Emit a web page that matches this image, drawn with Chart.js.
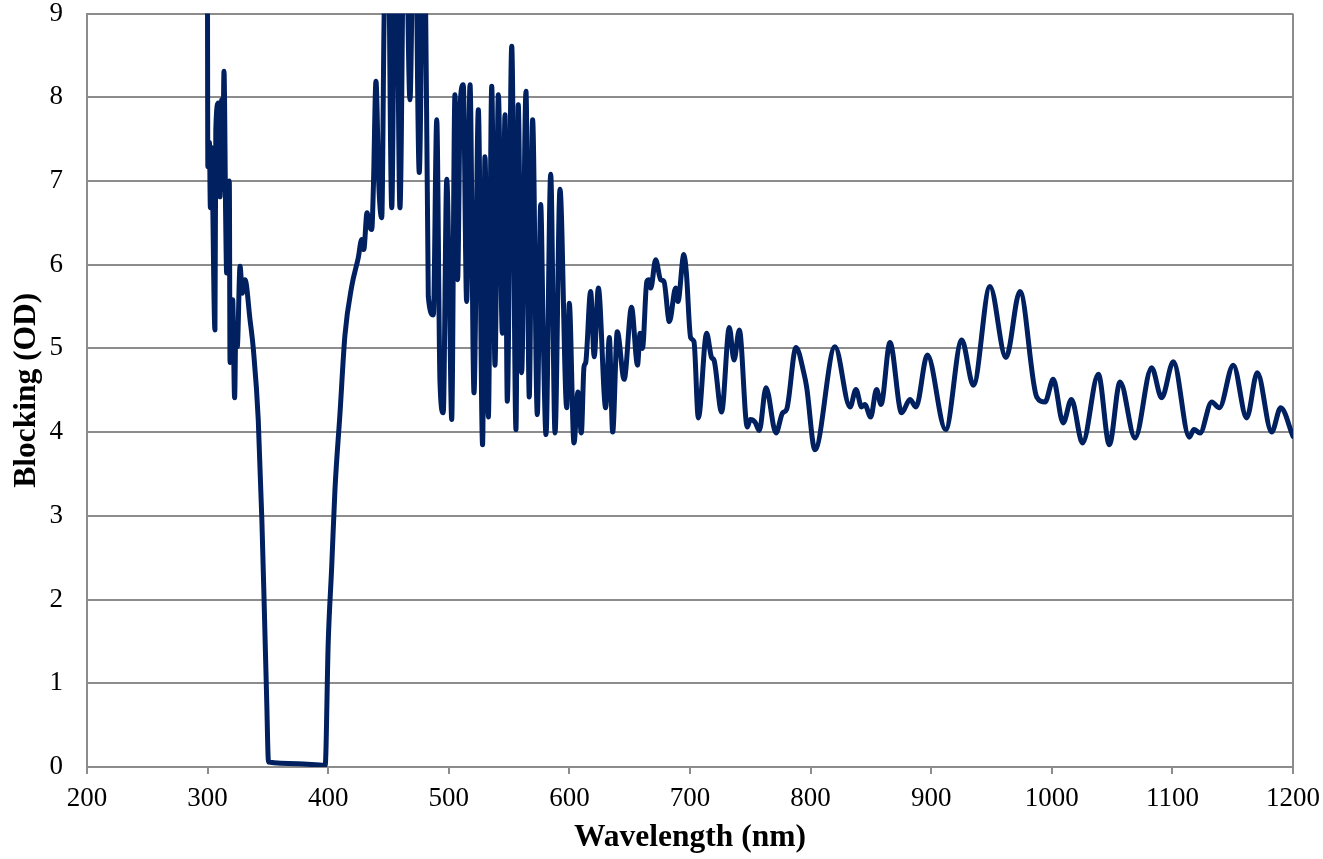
<!DOCTYPE html>
<html>
<head>
<meta charset="utf-8">
<script src="https://cdn.jsdelivr.net/npm/chart.js@4/dist/chart.umd.min.js"></script>
<style>
  html, body { margin: 0; padding: 0; background: #fff; }
  #wrap { width: 1323px; height: 859px; }
</style>
</head>
<body>
<div id="wrap"><canvas id="chart"></canvas></div>
<script>
// ── Data ────────────────────────────────────────────────

const wavelength = [
  299.8, 300.2, 301.5, 302.3, 303.2, 306.1, 306.8, 308.9, 310.3, 311.7,
  312.4, 313.6, 315, 315.8, 318, 318.6, 320.8, 322.4, 323.5, 324.6,
  326.9, 328.8, 331, 335.2, 338, 342, 345, 347, 349, 350.5,
  375, 397.5, 400, 402.9, 405.6, 409.8, 413.9, 419.5, 424.9, 427.8,
  429.5, 432.2, 434.5, 436.1, 437.5, 439.6, 442, 444.4, 446.3, 449,
  452.7, 456, 459.5, 463.5, 467.8, 471.5, 475.5, 479.5, 483, 487.2,
  490, 492.7, 495.4, 498.3, 500.4, 502.4, 505.1, 507.3, 509.5, 512,
  514.8, 517.6, 520.9, 524.5, 528, 530, 532.8, 535.6, 538.3, 541.1,
  544.4, 546.6, 548.5, 552.2, 555.7, 557.6, 560.4, 564, 566.7, 569.5,
  573.4, 576.2, 578.4, 580.6, 584.5, 588.1, 592.2, 597.8, 599.9, 603.8,
  607.1, 609.9, 612.1, 613.5, 617.6, 620.6, 624, 630.1, 633.1, 635.9,
  639.7, 645.4, 651.5, 656.5, 658.6, 660.6, 664.2, 666, 667.5, 671.5,
  675.7, 678.4, 682.9, 688.1, 690, 694.9, 697, 700.5, 703.3, 706.9,
  713.8, 717.9, 719.9, 726.2, 732.6, 736.5, 740.9, 747.5, 750, 753.9,
  757.5, 763, 771.3, 776.8, 780.1, 787.9, 794.5, 796.7, 803.6, 820.2,
  832.7, 837.6, 842.3, 845, 849.8, 854.7, 858.4, 865.8, 875.5, 882.4,
  887.4, 896.8, 912, 925.3, 935, 948.7, 962, 973.6, 987.5, 994.4,
  1001.2, 1009.4, 1016.3, 1025.5, 1038.6, 1047.7, 1056.6, 1069, 1082.8, 1091.1,
  1100.8, 1114, 1117.9, 1122.9, 1132.6, 1138.9, 1150.5, 1161.6, 1170.4, 1182.3,
  1189.8, 1200
];

const blocking = [
  10.5, 7.17, 7.46, 6.68, 7.4, 5.22, 7.61, 7.93, 6.81, 7.97,
  6.9, 8.31, 6.54, 5.9, 7.0, 4.83, 5.58, 4.41, 5.3, 5.02,
  5.98, 5.66, 5.82, 5.34, 4.98, 4.15, 2.95, 1.9, 0.8, 0.06,
  0.04, 0.02, 1.48, 2.39, 3.31, 4.23, 5.16, 5.74, 6.08, 6.3,
  6.18, 6.62, 6.45, 6.42, 6.94, 8.19, 6.94, 6.56, 8.89, 11,
  6.68, 11, 6.68, 11, 7.97, 11, 7.1, 11, 5.62, 5.4,
  7.73, 4.59, 4.23, 7.02, 5.78, 4.15, 8.03, 5.82, 7.93, 8.15,
  5.56, 8.15, 4.47, 7.85, 3.85, 7.29, 4.18, 8.13, 4.8, 8.03,
  5.18, 7.79, 4.37, 8.61, 4.03, 7.91, 4.71, 8.07, 4.42, 7.73,
  4.21, 6.72, 5.08, 3.97, 7.08, 3.99, 6.9, 4.29, 5.54, 3.87,
  4.48, 3.99, 4.78, 4.83, 5.68, 4.9, 5.72, 4.29, 5.13, 4.0,
  5.2, 4.63, 5.49, 4.8, 5.18, 5.0, 5.8, 5.82, 5.72, 6.06,
  5.82, 5.8, 5.32, 5.72, 5.56, 6.12, 5.9, 5.13, 5.08, 4.17,
  5.18, 4.89, 4.86, 4.24, 5.25, 4.86, 5.22, 4.06, 4.15, 4.12,
  4.02, 4.53, 3.99, 4.23, 4.27, 5.01, 4.7, 4.54, 3.79, 5.02,
  4.3, 4.51, 4.3, 4.33, 4.18, 4.51, 4.33, 5.07, 4.23, 4.39,
  4.3, 4.92, 4.03, 5.1, 4.56, 5.74, 4.89, 5.68, 4.42, 4.36,
  4.63, 4.11, 4.39, 3.87, 4.69, 3.85, 4.6, 3.93, 4.77, 4.41,
  4.84, 3.94, 4.03, 3.99, 4.36, 4.29, 4.8, 4.17, 4.71, 4.0,
  4.29, 3.95
];

const xTicks = [200, 300, 400, 500, 600, 700, 800, 900, 1000, 1100, 1200];
const yTicks = [0, 1, 2, 3, 4, 5, 6, 7, 8, 9];

// ── Style ───────────────────────────────────────────────

const LINE_COLOR = '#002060';
const GRID_COLOR = '#8c8c8c';
const FONT = "'Liberation Serif', 'Times New Roman', serif";

Chart.defaults.font.family = FONT;
Chart.defaults.color = '#000';

// ── Chart ───────────────────────────────────────────────

const points = wavelength.map((w, i) => ({ x: w, y: blocking[i] }));

new Chart(document.getElementById('chart'), {
  type: 'scatter',
  data: {
    datasets: [{
      data: points,
      showLine: true,
      borderColor: LINE_COLOR,
      borderWidth: 5,
      pointRadius: 0,
      cubicInterpolationMode: 'monotone',
      borderJoinStyle: 'round',
      borderCapStyle: 'round',
    }],
  },
  options: {
    responsive: true,
    maintainAspectRatio: false,
    animation: false,
    layout: { padding: { top: 0, right: 30, left: 0, bottom: 0 } },
    plugins: { legend: { display: false }, tooltip: { enabled: false } },
    scales: {
      x: {
        type: 'linear',
        min: 200,
        max: 1200,
        afterBuildTicks: s => { s.ticks = xTicks.map(v => ({ value: v })); },
        grid: {
          color: ctx => (ctx.tick && ctx.tick.value === 1200 ? GRID_COLOR : 'rgba(0,0,0,0)'),
          lineWidth: 2,
          drawTicks: true,
          tickLength: 7,
          tickColor: GRID_COLOR,
          tickWidth: 2,
        },
        border: { display: true, color: GRID_COLOR, width: 2 },
        ticks: {
          font: { size: 27, lineHeight: 1 },
          padding: 11,
          maxRotation: 0,
          callback: v => String(v),
        },
        title: {
          display: true,
          text: 'Wavelength (nm)',
          font: { size: 31.5, weight: 'bold' },
          padding: { top: 0, bottom: 2 },
        },
        afterFit: s => {
          s.height = 92;
          s.paddingLeft = 0;
          s.paddingRight = 0;
        },
      },
      y: {
        min: 0,
        max: 9,
        afterBuildTicks: s => { s.ticks = yTicks.map(v => ({ value: v })); },
        grid: {
          color: GRID_COLOR,
          lineWidth: 2,
          drawTicks: true,
          tickLength: 24,
          tickColor: 'rgba(0,0,0,0)',
        },
        border: { display: true, color: GRID_COLOR, width: 2 },
        ticks: { font: { size: 27, lineHeight: 1 }, padding: 0 },
        title: {
          display: true,
          text: 'Blocking (OD)',
          font: { size: 31.5, weight: 'bold' },
          padding: { top: 8, bottom: 0 },
        },
        afterFit: s => { s.width = 87; },
      },
    },
  },
});
</script>
</body>
</html>
